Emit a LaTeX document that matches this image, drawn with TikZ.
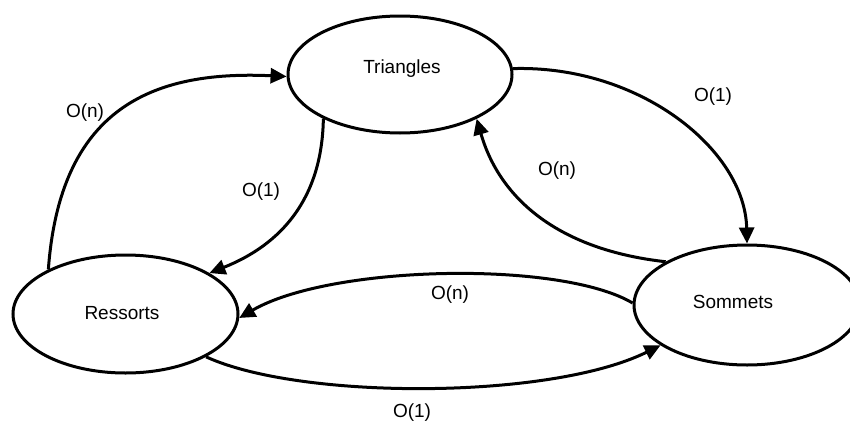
\documentclass[tikz,border=0pt]{standalone}
\usepackage{fontspec}
\setmainfont{Liberation Sans}
\usetikzlibrary{shapes.geometric,arrows.meta}
\begin{document}
\begin{tikzpicture}[x=1pt,y=-1pt,
  state/.style={ellipse,draw,line width=3pt,inner sep=0pt},
  txt/.style={font=\fontsize{19}{23}\selectfont,inner sep=0pt},
  link/.style={line width=3pt,-{Triangle[length=16pt,width=15pt]}}]
\useasboundingbox (0,0) rectangle (850,423);
\clip (0,0) rectangle (850,423);
\fill[white] (0,0) rectangle (850,423);

% states
\node[state,minimum width=224pt,minimum height=117pt] (T) at (400,74.5) {};
\node[state,minimum width=225pt,minimum height=118pt] (R) at (125.5,314) {};
\node[state,minimum width=226pt,minimum height=120pt] (S) at (747,305) {};
\node[txt] (tT) at (402,69) {Triangles};
\node[txt] (tR) at (122,313) {Ressorts};
\node[txt] (tS) at (733,302) {Sommets};

% transitions
\draw[link] (R.150) .. controls (60,110) and (150,70) .. (T.181);
\draw[link] (T.210) .. controls (322,200) and (280,245) .. (R.26);
\draw[link] (T.3) .. controls (640,65) and (745,150) .. (S.90);
\draw[link] (S.152) .. controls (560,250) and (500,200) .. (T.330);
\draw[link] (S.179) .. controls (560,260) and (330,265) .. (R.358);
\draw[link] (R.332) .. controls (300,400) and (550,400) .. (S.205);

% costs
\node[txt] (c1) at (85,113) {O(n)};
\node[txt] (c2) at (261,192) {O(1)};
\node[txt] (c3) at (713,97) {O(1)};
\node[txt] (c4) at (557,171) {O(n)};
\node[txt] (c5) at (450,295) {O(n)};
\node[txt] (c6) at (412,413) {O(1)};
\end{tikzpicture}
\end{document}
